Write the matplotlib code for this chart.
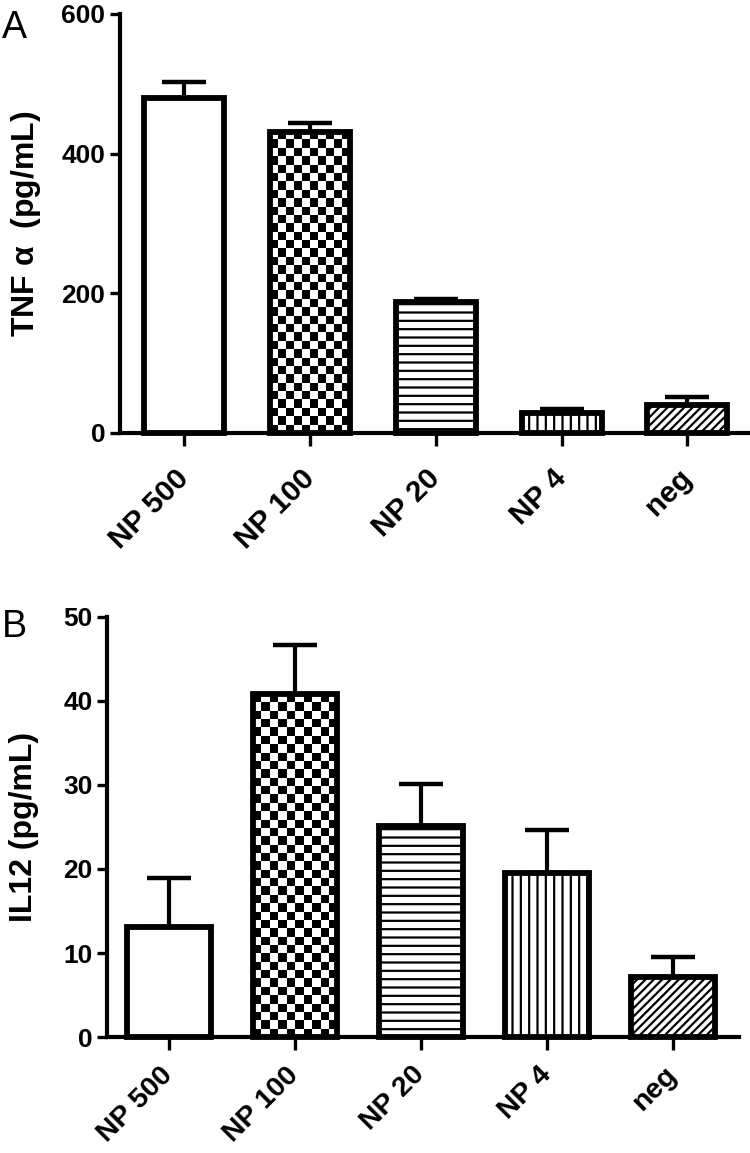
import numpy as np
import matplotlib
matplotlib.use('Agg')
import matplotlib.pyplot as plt

plt.rcParams['font.family'] = ['Liberation Sans', 'DejaVu Sans']
plt.rcParams['hatch.linewidth'] = 1.6

groups = ['NP 500', 'NP 100', 'NP 20', 'NP 4', 'neg']
tnf_vals = [480, 431, 188, 28, 40]
tnf_err = [23, 13, 4, 6, 11]
il12_vals = [13.1, 40.8, 25.1, 19.5, 7.1]
il12_err = [5.8, 5.9, 5.0, 5.1, 2.4]
hatches = [None, 'checker', '--', '||', '////']


def draw_panel(ax, vals, errs, width, ymax, ystep, ylabel, xlim, xpad, xsize):
    x = np.arange(len(groups))
    ax.set_xlim(xlim)
    ax.set_ylim(0, ymax)
    # error bars only upward, behind the bars
    ax.errorbar(x, vals, yerr=[np.zeros(len(vals)), errs], fmt='none', ecolor='black',
                elinewidth=3, capsize=16, capthick=3.2, zorder=1, clip_on=False)
    faces = ax.bar(x, vals, width, color='white', edgecolor='black', linewidth=0, zorder=2)
    for b, h in zip(faces, hatches):
        if h == 'checker':
            # checkerboard fill, square size ~8 px
            p0 = ax.transData.transform((b.get_x(), 0))
            p1 = ax.transData.transform((b.get_x() + b.get_width(), b.get_height()))
            nx = max(1, int(round((p1[0] - p0[0]) / 8.3)))
            ny = max(1, int(round((p1[1] - p0[1]) / 8.3)))
            ii, jj = np.meshgrid(np.arange(nx), np.arange(ny))
            board = (ii + jj) % 2
            im = ax.imshow(board, cmap='gray', extent=(b.get_x(), b.get_x() + b.get_width(), 0, b.get_height()),
                           aspect='auto', interpolation='nearest', zorder=2.5, origin='lower')
            im.set_clip_path(b)
        elif h:
            b.set_hatch(h)
    ax.bar(x, vals, width, fill=False, edgecolor='black', linewidth=4.2, zorder=3, clip_on=False)
    ax.set_xlim(xlim)
    ax.set_ylim(0, ymax)

    for s in ['top', 'right']:
        ax.spines[s].set_visible(False)
    for s in ['left', 'bottom']:
        ax.spines[s].set_linewidth(3)
        ax.spines[s].set_zorder(4)
    ax.set_yticks(np.arange(0, ymax + 1, ystep))
    ax.tick_params(axis='y', length=7.5, width=2.4, pad=3, labelsize=19)
    ax.tick_params(axis='x', length=9.5, width=2.4, pad=xpad, labelsize=xsize)
    ax.set_xticks(x)
    ax.set_xticklabels(groups, rotation=45, ha='right', va='center', rotation_mode='anchor', fontweight='bold')
    for t in ax.get_yticklabels():
        t.set_fontweight('bold')
    ax.set_ylabel(ylabel, fontsize=23, fontweight='bold')


fig = plt.figure(figsize=(7.5, 11.53), dpi=100)
axA = fig.add_axes([0.16, 0.6245, 0.837, 0.3635])
axB = fig.add_axes([0.1427, 0.1006, 0.8423, 0.3643])

draw_panel(axA, tnf_vals, tnf_err, 0.635, 600, 200, 'TNF $\\mathregular{\\alpha}$  (pg/mL)', (-0.51, 4.48), 20, 21.5)
axA.yaxis.set_label_coords(-0.1226, 0.5)
draw_panel(axB, il12_vals, il12_err, 0.67, 50, 10, 'IL12 (pg/mL)', (-0.49, 4.52), 15, 20.5)
axB.yaxis.set_label_coords(-0.1076, 0.5)

fig.text(0.002, 1 - 38 / 1153, 'A', fontsize=27)
fig.text(0.002, 1 - 637 / 1153, 'B', fontsize=27)

fig.savefig('out.png', dpi=100)
